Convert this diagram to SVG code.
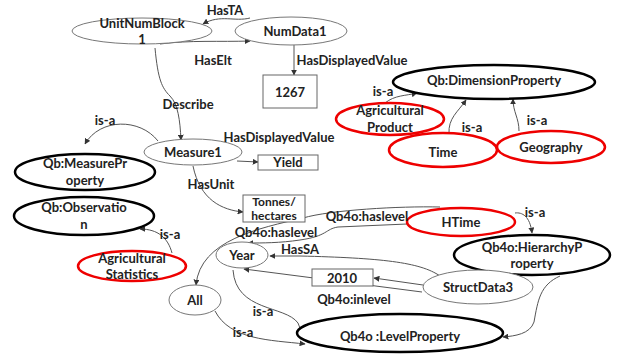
<svg xmlns="http://www.w3.org/2000/svg" width="617" height="356" viewBox="0 0 617 356">
<defs>
<marker id="ah" viewBox="0 0 10 10" refX="9" refY="5" markerWidth="6" markerHeight="6" orient="auto" markerUnits="userSpaceOnUse">
<path d="M0,0 L10,5 L0,10 z" fill="#333"/>
</marker>
</defs>
<style>
text{font-family:Lato,"Liberation Sans",sans-serif;font-weight:bold;font-size:13px;fill:#222;text-anchor:middle;dominant-baseline:central}
.sm{font-size:12px}
.plain{fill:#fff;stroke:#777;stroke-width:1}
.qb{fill:#fff;stroke:#000;stroke-width:2.5}
.red{fill:#fff;stroke:#e00;stroke-width:2.5}
.box{fill:#fff;stroke:#666;stroke-width:1}
.c{fill:none;stroke:#555;stroke-width:1;marker-end:url(#ah)}
</style>
<rect width="617" height="356" fill="#fff"/>
<g id="connectors">
<path class="c" d="M250,18 C235,22 220,14 203,24"/>
<path class="c" d="M160,44 C190,40 220,42 250,41"/>
<path class="c" d="M294,45 L294,75"/>
<path class="c" d="M155,48 C158,80 162,88 170,96 C178,104 180,120 181,140"/>
<path class="c" d="M158,141 C140,118 100,118 85,144"/>
<path class="c" d="M237,161 L258,162"/>
<path class="c" d="M193,166 C200,200 222,210 243,212"/>
<path class="c" d="M172,253 C168,238 158,229 140,229"/>
<path class="c" d="M385,103 C395,95 405,96 417,93"/>
<path class="c" d="M449,134 C448,118 458,112 466,100"/>
<path class="c" d="M519,131 C519,118 513,112 513,99"/>
<path class="c" d="M515,213 C522,212 530,216 532,233"/>
<path class="c" d="M440,207 C400,206 330,210 303,218 C260,228 200,240 196,285"/>
<path class="c" d="M407,224 L338,227 C325,229 328,236 300,240 C280,243 262,243 248,243"/>
<path class="c" d="M440,276 C420,262 380,258 300,256 L270,256"/>
<path class="c" d="M423,285 L374,278"/>
<path class="c" d="M422,292 L244,269"/>
<path class="c" d="M233,270 C236,312 285,305 298,323 C301,330 302,335 303,340"/>
<path class="c" d="M215,311 C230,340 270,340 305,344"/>
<path class="c" d="M560,276 C540,285 538,300 534,322 C530,334 515,336 503,337"/>
</g>
<g id="UnitNumBlock1"><ellipse class="plain" cx="142" cy="31" rx="70" ry="13"/><text x="142" y="23">UnitNumBlock</text><text x="142" y="39">1</text></g>
<g id="NumData1"><ellipse class="plain" cx="291" cy="31" rx="56" ry="14"/><text x="295" y="31">NumData1</text></g>
<g id="box1267"><rect class="box" x="263" y="75" width="54" height="33"/><text x="290" y="92">1267</text></g>
<g id="Measure1"><ellipse class="plain" cx="193" cy="152" rx="49" ry="13"/><text x="193" y="152">Measure1</text></g>
<g id="Yield"><rect class="box" x="258" y="155" width="60" height="15"/><text x="288" y="162">Yield</text></g>
<g id="Tonnes"><rect class="box" x="243" y="195" width="62" height="27"/><text class="sm" x="274" y="201.5">Tonnes/</text><text class="sm" x="274" y="215.5">hectares</text></g>
<g id="QbMeasureProperty"><ellipse class="qb" cx="85" cy="172" rx="70" ry="18"/><text x="85" y="163">Qb:MeasurePr</text><text x="85" y="180">operty</text></g>
<g id="QbObservation"><ellipse class="qb" cx="84" cy="216" rx="70" ry="19"/><text x="84" y="207">Qb:Observatio</text><text x="84" y="224">n</text></g>
<g id="AgriculturalStatistics"><ellipse class="red" cx="132" cy="266" rx="54" ry="15"/><text x="132" y="258">Agricultural</text><text x="132" y="274">Statistics</text></g>
<g id="QbDimensionProperty"><ellipse class="qb" cx="494" cy="82" rx="101" ry="17"/><text x="494" y="80">Qb:DimensionProperty</text></g>
<g id="AgriculturalProduct"><ellipse class="red" cx="390" cy="119" rx="54" ry="16"/><text x="390" y="110">Agricultural</text><text x="390" y="127">Product</text></g>
<g id="Time"><ellipse class="red" cx="443" cy="150" rx="54" ry="17"/><text x="443" y="152">Time</text></g>
<g id="Geography"><ellipse class="red" cx="551" cy="147" rx="54" ry="16"/><text x="551" y="147">Geography</text></g>
<g id="HTime"><ellipse class="red" cx="461" cy="222" rx="54" ry="14"/><text x="461" y="222">HTime</text></g>
<g id="HierarchyProperty"><ellipse class="qb" cx="532" cy="255" rx="78" ry="20"/><text x="532" y="247">Qb4o:HierarchyP</text><text x="532" y="263">roperty</text></g>
<g id="Year"><ellipse class="plain" cx="242" cy="255" rx="26" ry="13"/><text x="242" y="255">Year</text></g>
<g id="All"><ellipse class="plain" cx="195" cy="300" rx="26" ry="15"/><text x="195" y="300">All</text></g>
<g id="StructData3"><ellipse class="plain" cx="478" cy="287" rx="55" ry="17"/><text x="478" y="287">StructData3</text></g>
<g id="box2010"><rect class="box" x="312" y="269" width="61" height="17"/><text x="342" y="278">2010</text></g>
<g id="LevelProperty"><ellipse class="qb" cx="400" cy="333" rx="103" ry="19"/><text x="400" y="336">Qb4o :LevelProperty</text></g>
<g id="labels">
<text x="225" y="10">HasTA</text>
<text x="213" y="60">HasElt</text>
<text x="352" y="60">HasDisplayedValue</text>
<text x="188" y="104">Describe</text>
<text x="105" y="120">is-a</text>
<text x="279" y="137">HasDisplayedValue</text>
<text x="211" y="184">HasUnit</text>
<text x="170" y="234">is-a</text>
<text x="383" y="91">is-a</text>
<text x="472" y="127">is-a</text>
<text x="537" y="120">is-a</text>
<text x="535" y="212">is-a</text>
<text x="367" y="216">Qb4o:haslevel</text>
<text x="276" y="232">Qb4o:haslevel</text>
<text x="300" y="249">HasSA</text>
<text x="354" y="299">Qb4o:inlevel</text>
<text x="263" y="311">is-a</text>
<text x="243" y="332">is-a</text>
</g>
</svg>
